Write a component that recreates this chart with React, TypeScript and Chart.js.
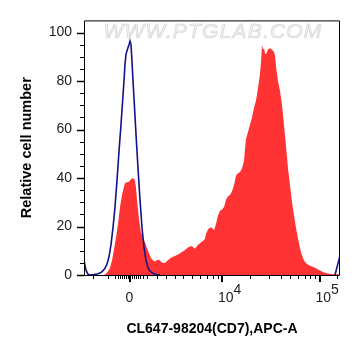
import { useEffect, useRef } from 'react';
import { Chart, registerables } from 'chart.js';

Chart.register(...registerables);

// Histogram channel (0-256 display channels) and relative counts
const redChannels = [0, 20, 22, 24, 26, 28, 30, 32, 34, 36, 38, 40, 41, 43, 45, 47, 49, 51, 52, 53, 55, 57, 59, 61, 63, 65, 67, 69, 71, 73, 75, 77, 79, 81, 83, 86, 89, 92, 95, 98, 101, 104, 107, 109, 111, 113, 115, 117, 119, 121, 122, 124, 126, 128, 130, 132, 134, 136, 138, 140, 142, 144, 146, 148, 150, 152, 154, 156, 158, 160, 161, 162, 164, 166, 168, 170, 172, 174, 176, 177, 178, 179, 180, 181, 182, 183, 184, 186, 188, 190, 191, 192, 194, 196, 198, 200, 202, 204, 206, 208, 210, 212, 214, 216, 218, 220, 222, 225, 228, 231, 234, 237, 240, 244, 248, 252, 256];
const redCounts = [0, 0, 0.5, 1.5, 3, 6, 10.5, 15.5, 21, 28, 33, 36.5, 37.8, 38.2, 38.5, 39.5, 40, 39, 36, 31, 23, 17.5, 15, 13.5, 11, 9, 7, 6, 5.6, 6.2, 6.3, 5.5, 4.9, 5, 5.8, 6.8, 7.5, 8, 8.7, 9.5, 10.3, 11.3, 12, 11.5, 10.8, 12, 12.8, 13.5, 14, 15, 17, 18.8, 19.6, 19.5, 18.5, 21, 24.5, 26.5, 27, 28, 31, 32.5, 33, 34.5, 37, 41, 42, 42.5, 44, 47, 52, 56, 59, 62, 65, 69, 72, 77, 83, 88, 95, 93, 93.5, 91.5, 91, 92, 93, 93.5, 93, 92, 90.5, 86, 80, 76, 70, 62, 53, 44, 37, 30, 24.5, 19.5, 15, 11, 8, 6, 4.8, 4, 3.5, 3, 2.3, 1.6, 1, 0.6, 0.4, 0.3, 0.3];

const blueChannels = [0, 1, 2, 4, 6, 10, 14, 17, 19, 21, 23, 25, 27, 29, 31, 33, 35, 37, 39, 40, 41, 42, 43, 45, 46, 47, 48, 49, 50, 52, 54, 56, 58, 60, 62, 64, 66, 69, 72, 76, 77, 251, 256];
const blueCounts = [6, 4, 2, 0.3, 0, 0.2, 0.5, 1, 1.8, 2.8, 4.5, 7.5, 12.5, 19.5, 28, 39, 51, 62, 74, 80, 87, 91, 92.5, 95, 96.5, 95, 88, 80, 73, 58, 44, 31, 19.5, 11.5, 6, 3, 1.6, 0.7, 0.2, 0, null, 0, 8];

const yMajorTicks = [0, 20, 40, 60, 80, 100];
const yMinorTicks = [5, 10, 15, 25, 30, 35, 45, 50, 55, 65, 70, 75, 85, 90, 95];

const xMajorTicks = [45.5, 138, 235.5];
const xTickBase = ['0', '10', '10'];
const xTickExp = ['', '4', '5'];
const xMinorTicks = [9, 24, 31, 33.5, 36, 38, 40, 42, 44, 48, 50, 52, 54, 56, 59, 63, 73, 82, 91, 99, 108, 116, 123, 129, 134, 166, 184.5, 196.5, 206, 214, 220.5, 226, 231, 253];

const xTitle = 'CL647-98204(CD7),APC-A';
const yTitle = 'Relative cell number';
const watermark = 'WWW.PTGLAB.COM';

const FONT = '"Liberation Sans", Arial, Helvetica, sans-serif';

const decorPlugin = {
  id: 'decor',
  afterDraw(chart: any) {
    const { ctx, chartArea, scales } = chart;
    const { left, right, top, bottom } = chartArea;
    const x = scales.x;
    const y = scales.y;
    ctx.save();
    // watermark
    ctx.font = `italic 21px ${FONT}`;
    (ctx as any).letterSpacing = '1.2px';
    ctx.textAlign = 'center';
    ctx.textBaseline = 'alphabetic';
    ctx.fillStyle = '#f4f4f4';
    ctx.strokeStyle = 'rgba(175,175,175,0.5)';
    ctx.lineWidth = 0.7;
    ctx.fillText(watermark, (left + right) / 2 + 1, 38);
    ctx.strokeText(watermark, (left + right) / 2 + 1, 38);
    (ctx as any).letterSpacing = '0px';

    // frame
    ctx.strokeStyle = '#000';
    ctx.lineWidth = 1;
    ctx.beginPath();
    ctx.moveTo(left + 0.5, top + 0.5);
    ctx.lineTo(right - 0.5, top + 0.5);
    ctx.lineTo(right - 0.5, bottom + 0.5);
    ctx.lineTo(left + 0.5, bottom + 0.5);
    ctx.closePath();
    ctx.stroke();

    // y ticks
    ctx.beginPath();
    ctx.lineWidth = 1.5;
    yMajorTicks.forEach((v) => {
      const py = Math.round(y.getPixelForValue(v)) + 0.5;
      ctx.moveTo(left - 7, py);
      ctx.lineTo(left, py);
    });
    ctx.stroke();
    ctx.beginPath();
    ctx.lineWidth = 1;
    yMinorTicks.forEach((v) => {
      const py = Math.round(y.getPixelForValue(v)) + 0.5;
      ctx.moveTo(left - 4, py);
      ctx.lineTo(left, py);
    });
    ctx.stroke();

    // x ticks
    ctx.beginPath();
    ctx.lineWidth = 2;
    xMajorTicks.forEach((v) => {
      const px = Math.round(x.getPixelForValue(v));
      ctx.moveTo(px, bottom);
      ctx.lineTo(px, bottom + 7);
    });
    ctx.stroke();
    ctx.beginPath();
    ctx.lineWidth = 1;
    xMinorTicks.forEach((v) => {
      const px = Math.round(x.getPixelForValue(v)) + 0.5;
      ctx.moveTo(px, bottom);
      ctx.lineTo(px, bottom + 4);
    });
    ctx.stroke();

    // x labels
    ctx.fillStyle = '#222';
    ctx.font = `14px ${FONT}`;
    ctx.textBaseline = 'alphabetic';
    xMajorTicks.forEach((v, i) => {
      const px = x.getPixelForValue(v);
      const base = xTickBase[i];
      const exp = xTickExp[i];
      if (!exp) {
        ctx.textAlign = 'center';
        ctx.fillText(base, px, 302);
      } else {
        ctx.textAlign = 'left';
        const bx = px - 4;
        ctx.fillText(base, bx, 302);
        const w = ctx.measureText(base).width;
        ctx.fillText(exp, bx + w, 294);
      }
    });
    ctx.restore();
  },
};

export default function App() {
  const canvasRef = useRef<HTMLCanvasElement | null>(null);

  useEffect(() => {
    const canvas = canvasRef.current;
    if (!canvas) return;
    const redData = redChannels.map((c, i) => ({ x: c, y: redCounts[i] }));
    const blueData = blueChannels.map((c, i) => ({ x: c, y: blueCounts[i] }));
    const chart = new Chart(canvas, {
      type: 'line',
      data: {
        datasets: [
          {
            label: 'CD7',
            data: blueData as any,
            borderColor: '#12128a',
            borderWidth: 1.6,
            fill: false,
            pointRadius: 0,
            tension: 0,
            spanGaps: false,
            order: 0,
          },
          {
            label: 'Stained',
            data: redData as any,
            borderWidth: 0,
            borderColor: 'rgba(0,0,0,0)',
            backgroundColor: '#ff3333',
            fill: 'origin',
            pointRadius: 0,
            tension: 0,
            order: 1,
          },
        ],
      },
      options: {
        animation: false,
        responsive: false,
        maintainAspectRatio: false,
        layout: { padding: { top: 20, right: 21, left: 0, bottom: 0 } },
        plugins: { legend: { display: false }, tooltip: { enabled: false } },
        scales: {
          x: {
            type: 'linear',
            min: 0,
            max: 256,
            grid: { display: false, drawTicks: false },
            border: { display: false },
            ticks: { display: false },
            title: {
              display: true,
              text: xTitle,
              color: '#000',
              font: { family: FONT, size: 14, weight: 'bold' },
              padding: { top: 0, bottom: 18.5 },
            },
            afterFit: (s: any) => {
              s.height = 81;
            },
          },
          y: {
            type: 'linear',
            min: 0,
            max: 105,
            grid: { display: false, drawTicks: false },
            border: { display: false },
            afterBuildTicks: (s: any) => {
              s.ticks = yMajorTicks.map((v) => ({ value: v }));
            },
            ticks: {
              padding: 12,
              color: '#222',
              font: { family: FONT, size: 14 },
            },
            title: {
              display: true,
              text: yTitle,
              color: '#000',
              font: { family: FONT, size: 14.5, weight: 'bold' },
              padding: { top: 18, bottom: 0 },
            },
            afterFit: (s: any) => {
              s.width = 84;
            },
          },
        },
      },
      plugins: [decorPlugin],
    });
    return () => chart.destroy();
  }, []);

  return (
    <div style={{ position: 'fixed', left: 0, top: 0, width: 361, height: 356, background: '#fff' }}>
      <canvas ref={canvasRef} width={361} height={356} style={{ width: 361, height: 356, display: 'block' }} />
    </div>
  );
}
